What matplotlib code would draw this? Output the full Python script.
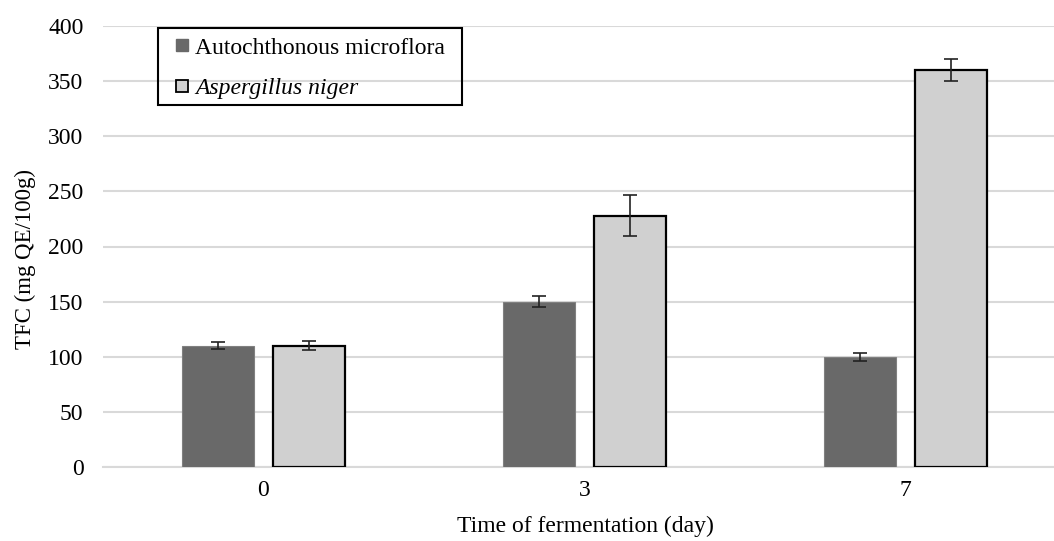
import matplotlib
matplotlib.use("Agg")
import matplotlib.pyplot as plt
from matplotlib.lines import Line2D
import matplotlib.patches as patches
import numpy as np

days = ["0", "3", "7"]
autochthonous = [110, 150, 100]
autochthonous_err = [3, 5, 3.5]
aspergillus = [110, 228, 360]
aspergillus_err = [4, 18.5, 10]
y_ticks = [0, 50, 100, 150, 200, 250, 300, 350, 400]

plt.rcParams['font.family'] = ['Liberation Serif', 'DejaVu Serif']

W, H = 1054, 541
fig = plt.figure(figsize=(W / 100, H / 100), dpi=100)
ax = fig.add_axes([103 / W, (H - 467) / H, (W - 103) / W, (467 - 26) / H])

x = np.arange(len(days))
width = 0.224
off = 0.143
dark, light = '#696969', '#d0d0d0'

ax.bar(x - off, autochthonous, width, color=dark, edgecolor='#808080',
       linewidth=0.8, zorder=3)
ax.bar(x + off, aspergillus, width, color=light, edgecolor='black',
       linewidth=1.6, zorder=3)
ax.errorbar(x - off, autochthonous, yerr=autochthonous_err, fmt='none',
            ecolor='#222222', elinewidth=1.2, capsize=5, capthick=1.2, zorder=4)
ax.errorbar(x + off, aspergillus, yerr=aspergillus_err, fmt='none',
            ecolor='#222222', elinewidth=1.2, capsize=5, capthick=1.2, zorder=4)

ax.set_xlim(-0.5, 2.5 - 12 / 321)
ax.set_ylim(0, 400)
ax.set_yticks(y_ticks)
ax.set_xticks(x)
ax.set_xticklabels(days)
ax.yaxis.grid(True, color='#d9d9d9', linewidth=1.5, zorder=0)
ax.set_axisbelow(True)
for s in ['top', 'right', 'left']:
    ax.spines[s].set_visible(False)
ax.spines['bottom'].set_color('#d9d9d9')
ax.spines['bottom'].set_linewidth(1.5)
ax.tick_params(axis='both', length=0, labelsize=17, colors='black')
ax.tick_params(axis='y', pad=14)
ax.tick_params(axis='x', pad=9)

ax_w = W - 103
ax_h = 467 - 26
ax.set_ylabel('TFC (mg QE/100g)', fontsize=16.5)
ax.yaxis.set_label_coords(-(103 - 36) / ax_w, (467 - 259) / ax_h)
ax.set_xlabel('Time of fermentation (day)', fontsize=17)
ax.xaxis.set_label_coords((585 - 103) / ax_w, -(516 - 467) / ax_h)

# legend: square markers, frame drawn as a separate box
handles = [
    Line2D([], [], linestyle='none', marker='s', markersize=8,
           markerfacecolor=dark, markeredgecolor=dark),
    Line2D([], [], linestyle='none', marker='s', markersize=8,
           markerfacecolor=light, markeredgecolor='black', markeredgewidth=1.3),
]
labels = ['Autochthonous microflora', 'Aspergillus niger']
leg = fig.legend(handles, labels, loc='upper left',
                 bbox_to_anchor=(168 / W, 1 - 37 / H), frameon=False,
                 fontsize=17, handlelength=1.15, handletextpad=0.0,
                 borderpad=0, labelspacing=0.8, borderaxespad=0)
leg.get_texts()[1].set_style('italic')
fig.patches.append(patches.Rectangle((158 / W, 1 - 105 / H), (462 - 158) / W, 77 / H,
                                     transform=fig.transFigure, fill=False,
                                     edgecolor='black', linewidth=1.5))

fig.savefig('out.png', dpi=100)
